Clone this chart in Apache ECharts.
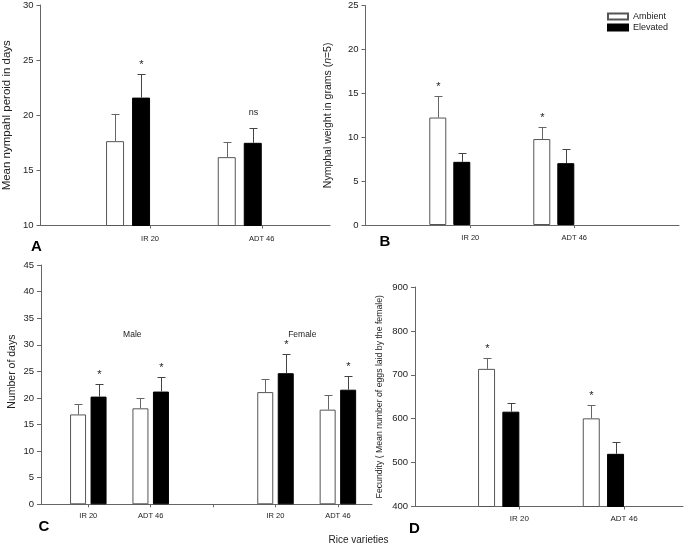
<!DOCTYPE html>
<html><head><meta charset="utf-8">
<script src="https://cdn.jsdelivr.net/npm/echarts@6/dist/echarts.min.js"></script>
<style>html,body{margin:0;padding:0;background:#fff}#c{width:685px;height:546px}</style>
</head><body><div id="c"></div>
<script>
// ---------- DATA ----------
// Panel A: Mean nymphal period (days)
const catsA = ['IR 20', 'ADT 46'];
const ambA = [17.65, 16.2];
const ambErrA = [2.45, 1.4];
const eleA = [21.6, 17.5];
const eleErrA = [2.1, 1.3];
const sigAmbA = ['', ''];
const sigEleA = ['*', 'ns'];
const yTicksA = [10, 30, 5];

// Panel B: Nymphal weight (g)
const catsB = ['IR 20', 'ADT 46'];
const ambB = [12.25, 9.8];
const ambErrB = [2.4, 1.4];
const eleB = [7.2, 7.05];
const eleErrB = [1.0, 1.6];
const sigAmbB = ['*', '*'];
const sigEleB = ['', ''];
const yTicksB = [0, 25, 5];

// Panel C: Number of days (Male | Female)
const catsC = ['IR 20', 'ADT 46', '', 'IR 20', 'ADT 46'];
const ambC = [16.9, 18.05, null, 21.1, 17.8];
const ambErrC = [1.9, 2.0, null, 2.45, 2.7];
const eleC = [20.25, 21.2, null, 24.65, 21.55];
const eleErrC = [2.35, 2.75, null, 3.55, 2.65];
const sigAmbC = ['', '', '', '', ''];
const sigEleC = ['*', '*', '', '*', '*'];
const groupLabelsC = ['Male', 'Female'];
const yTicksC = [0, 45, 5];

// Panel D: Fecundity
const catsD = ['IR 20', 'ADT 46'];
const ambD = [713.5, 600.8];
const ambErrD = [25, 30];
const eleD = [616, 520];
const eleErrD = [20, 27];
const sigAmbD = ['*', '*'];
const sigEleD = ['', ''];
const yTicksD = [400, 900, 100];

const seriesNames = ['Ambient', 'Elevated'];

// ---------- STYLE / BUILD ----------
const FONT = '"Liberation Sans", Arial, sans-serif';
const AX = '#666666', TX = '#222';
const grid = [], xAxis = [], yAxis = [], series = [];

function errSeries(xb, yb, means, errs, sigs, offset, color) {
  return {
    type: 'custom', xAxisIndex: xb, yAxisIndex: yb, z: 5, silent: true,
    data: means.map((m, i) => [i, m == null ? 0 : m, errs[i] == null ? 0 : errs[i]]),
    renderItem: function (params, api) {
      const i = params.dataIndex;
      const m = means[i], e = errs[i];
      if (m == null) return null;
      const base = api.coord([i, m]);
      const top = api.coord([i, m + e]);
      const x = Math.round(base[0] + offset) + 0.5;
      const yt = Math.round(top[1]) + 0.5;
      const children = [
        {type: 'line', shape: {x1: x, y1: base[1], x2: x, y2: yt}, style: {stroke: color, lineWidth: 1}},
        {type: 'line', shape: {x1: x - 4, y1: yt, x2: x + 4, y2: yt}, style: {stroke: color, lineWidth: 1}}
      ];
      if (sigs[i]) {
        const star = sigs[i] === '*';
        children.push({type: 'text', x: x, y: yt - (star ? 10 : 16),
          style: {text: sigs[i], fontSize: star ? 11 : 9, fill: TX, align: 'center', verticalAlign: 'middle', fontFamily: FONT}});
      }
      return {type: 'group', children: children};
    }
  };
}

function addPanel(cfg) {
  const gf = grid.length;
  grid.push({left: cfg.frame[0], top: cfg.frame[1], width: cfg.frame[2], height: cfg.frame[3]});
  xAxis.push({gridIndex: gf, type: 'value', min: 0, max: 1,
    axisLine: {show: true, onZero: false, lineStyle: {color: AX}},
    axisTick: {show: false}, axisLabel: {show: false}, splitLine: {show: false}});
  yAxis.push({gridIndex: gf, type: 'value', min: cfg.y[0], max: cfg.y[1], interval: cfg.y[2],
    axisLine: {show: true, lineStyle: {color: AX}},
    axisTick: {show: true, length: 4, lineStyle: {color: AX}},
    axisLabel: {fontSize: 9.5, color: TX, margin: 7, fontFamily: FONT},
    splitLine: {show: false},
    name: cfg.name, nameLocation: 'middle', nameGap: cfg.nameGap, nameRotate: 90,
    nameTextStyle: Object.assign({fontSize: cfg.nameSize, color: TX, fontFamily: FONT}, cfg.nameExtra || {})});
  const gb = grid.length;
  grid.push({left: cfg.bars[0], top: cfg.frame[1], width: cfg.bars[1], height: cfg.frame[3]});
  xAxis.push({gridIndex: gb, type: 'category', data: cfg.cats, boundaryGap: true,
    axisLine: {show: false},
    axisTick: {show: true, alignWithLabel: true, interval: 0, length: 3, lineStyle: {color: AX}},
    axisLabel: {interval: 0, fontSize: cfg.xSize, color: TX, margin: cfg.xMargin, fontFamily: FONT}});
  yAxis.push({gridIndex: gb, type: 'value', min: cfg.y[0], max: cfg.y[1], show: false});
  const xb = xAxis.length - 1, yb = yAxis.length - 1;
  const w = cfg.w, g = cfg.g, gap = (g / w * 100).toFixed(1) + '%';
  series.push({type: 'bar', name: seriesNames[0], xAxisIndex: xb, yAxisIndex: yb, data: cfg.amb,
    barWidth: w, barGap: gap, silent: true,
    itemStyle: {color: '#ffffff', borderColor: '#555', borderWidth: 1}});
  series.push({type: 'bar', name: seriesNames[1], xAxisIndex: xb, yAxisIndex: yb, data: cfg.ele,
    barWidth: w, barGap: gap, silent: true,
    itemStyle: {color: '#000000', borderColor: '#000', borderWidth: 1}});
  let offA, offE;
  if (cfg.pad) {
    // spacer so that the category tick sits at the right edge of the black bar
    series.push({type: 'bar', name: '_spacer', xAxisIndex: xb, yAxisIndex: yb, data: [],
      barWidth: 2 * w, barGap: gap, silent: true});
    offA = -(1.5 * w + g); offE = -w / 2;
  } else {
    offA = -(g / 2 + w / 2); offE = g / 2 + w / 2;
  }
  series.push(errSeries(xb, yb, cfg.amb, cfg.ambErr, cfg.sigAmb, offA, '#666'));
  series.push(errSeries(xb, yb, cfg.ele, cfg.eleErr, cfg.sigEle, offE, '#444'));
}

addPanel({frame: [39, 5, 291, 220.5], bars: [94.2, 223.4], y: yTicksA, cats: catsA,
  amb: ambA, ambErr: ambErrA, ele: eleA, eleErr: eleErrA, sigAmb: sigAmbA, sigEle: sigEleA,
  w: 18, g: 8, pad: true, name: 'Mean nympahl peroid in days', nameSize: 11.5, nameGap: 27.5,
  xSize: 7.5, xMargin: 9});
addPanel({frame: [365.5, 5.7, 313.5, 219.3], bars: [418.3, 208], y: yTicksB, cats: catsB,
  amb: ambB, ambErr: ambErrB, ele: eleB, eleErr: eleErrB, sigAmb: sigAmbB, sigEle: sigEleB,
  w: 17, g: 7, pad: true, name: 'Nymphal weight in grams ({it|n}=5)', nameSize: 10.5, nameGap: 31.5,
  nameExtra: {rich: {it: {fontStyle: 'italic', fontSize: 10.5, color: TX, fontFamily: FONT}}},
  xSize: 7.5, xMargin: 8.5});
addPanel({frame: [41, 265, 331, 239.3], bars: [57.1, 312], y: yTicksC, cats: catsC,
  amb: ambC, ambErr: ambErrC, ele: eleC, eleErr: eleErrC, sigAmb: sigAmbC, sigEle: sigEleC,
  w: 16, g: 4.5, pad: false, name: 'Number of days', nameSize: 10.5, nameGap: 23.5,
  nameExtra: {padding: [0, 0, 0, 26]},
  xSize: 7.5, xMargin: 8});
addPanel({frame: [415, 287, 268, 219.5], bars: [467, 209.4], y: yTicksD, cats: catsD,
  amb: ambD, ambErr: ambErrD, ele: eleD, eleErr: eleErrD, sigAmb: sigAmbD, sigEle: sigEleD,
  w: 17, g: 7.3, pad: true, name: 'Fecundity ( Mean number of eggs laid by the female)', nameSize: 8.7, nameGap: 30.5,
  xSize: 8, xMargin: 8});

function txt(t, x, y, size, bold) {
  return {type: 'text', x: x, y: y, silent: true,
    style: {text: t, fontSize: size, fontWeight: bold ? 'bold' : 'normal', fill: bold ? '#000' : TX,
      fontFamily: FONT, align: 'center', verticalAlign: 'middle'}};
}

const option = {
  animation: false,
  textStyle: {fontFamily: FONT},
  grid: grid, xAxis: xAxis, yAxis: yAxis, series: series,
  legend: {data: seriesNames, orient: 'vertical', left: 602, top: 7, icon: 'rect',
    itemWidth: 20, itemHeight: 6, itemGap: 2, selectedMode: false,
    textStyle: {fontSize: 9, color: TX, fontFamily: FONT}},
  graphic: [
    txt('A', 36.5, 247, 15, true),
    txt('B', 385, 242, 15, true),
    txt('C', 44, 527, 15, true),
    txt('D', 414.5, 529, 15, true),
    txt(groupLabelsC[0], 132.3, 334.3, 8.5, false),
    txt(groupLabelsC[1], 302.3, 334.3, 8.5, false),
    txt('Rice varieties', 358.5, 540, 10, false)
  ]
};
echarts.init(document.getElementById('c'), null, {renderer: 'canvas'}).setOption(option);
</script></body></html>
